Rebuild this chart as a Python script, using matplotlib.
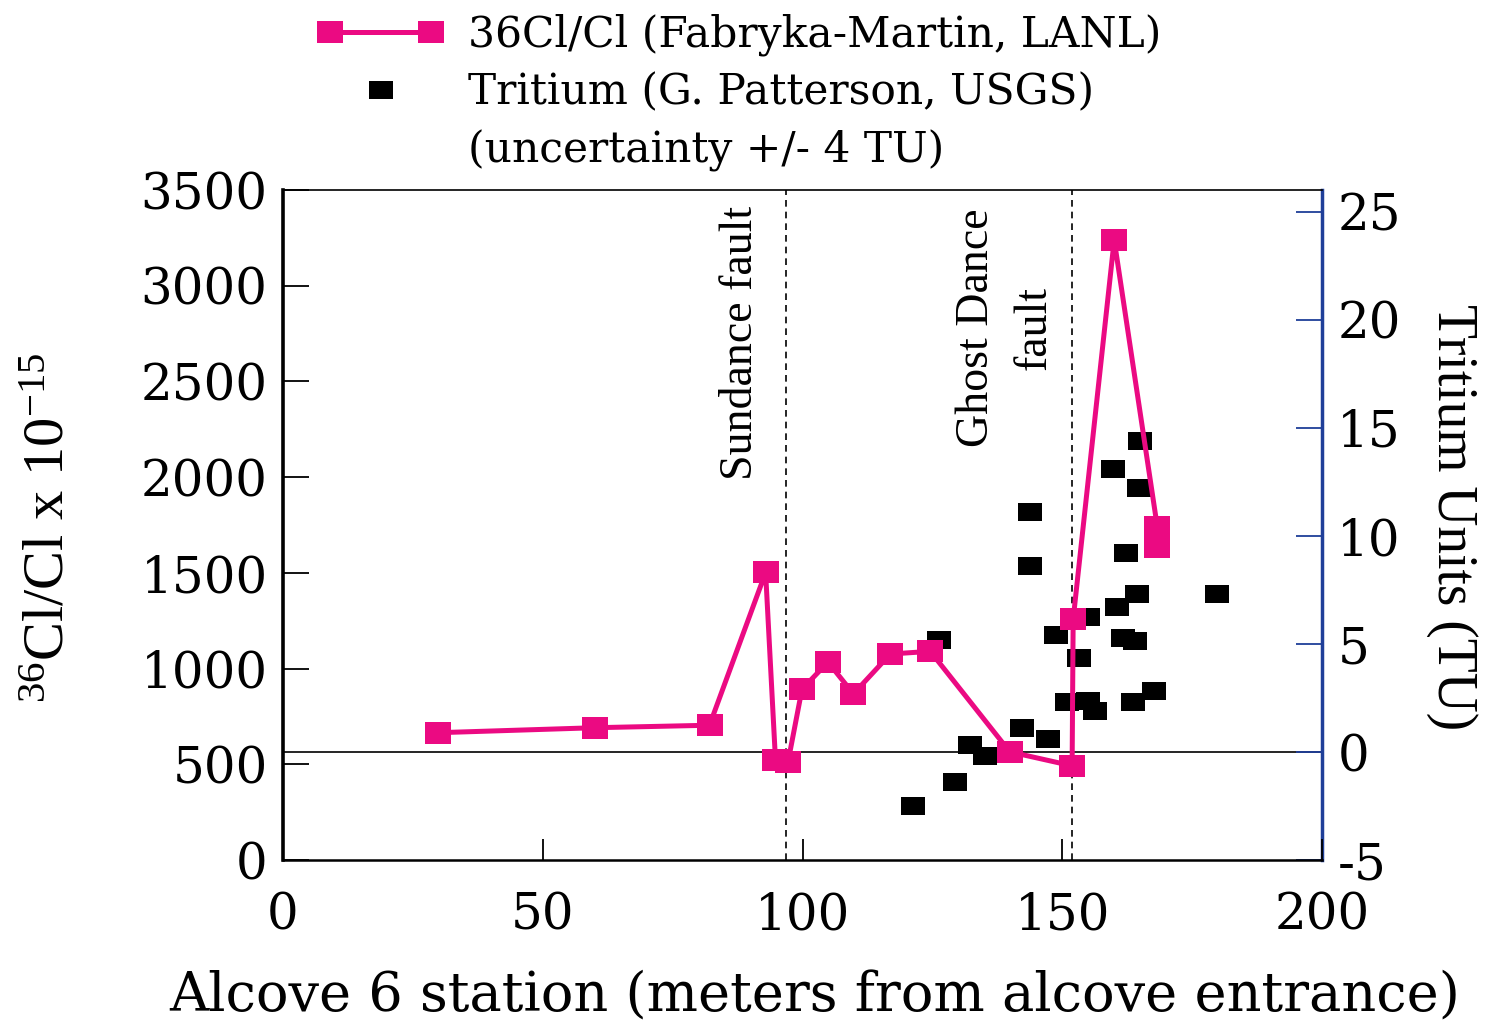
import matplotlib
matplotlib.use('Agg')
import matplotlib.pyplot as plt
from matplotlib.path import Path
from matplotlib.lines import Line2D
from matplotlib.legend_handler import HandlerLine2D

# ---- data ----
cl_station = [29.9, 60.0, 82.1, 92.9, 94.8, 97.2, 99.9, 104.9, 109.8, 116.9,
              124.6, 139.9, 151.9, 152.1, 160.0, 168.3, 168.3]
cl_ratio = [665, 691, 704, 1502, 522, 510, 892, 1034, 868, 1076,
            1090, 565, 492, 1257, 3239, 1740, 1635]

tr_station = [121.3, 126.3, 129.3, 132.3, 135.1, 142.2, 143.8, 143.8, 147.2, 148.8,
              151.0, 153.3, 154.9, 155.0, 156.3, 159.7, 160.6, 161.6, 162.3, 163.6,
              164.0, 164.4, 164.8, 164.9, 167.6, 179.7]
tr_units = [-2.5, 5.2, -1.4, 0.3, -0.2, 1.1, 11.1, 8.6, 0.6, 5.4,
            2.3, 4.35, 6.25, 2.35, 1.9, 13.1, 6.7, 5.25, 9.2, 2.3,
            5.15, 7.3, 12.2, 14.4, 2.8, 7.3]

fault_station = [96.8, 151.9]
x_ticks = [0, 50, 100, 150, 200]
left_ticks = [0, 500, 1000, 1500, 2000, 2500, 3000, 3500]
right_ticks = [-5, 0, 5, 10, 15, 20, 25]

cl_label = "36Cl/Cl (Fabryka-Martin, LANL)"
tr_label = "Tritium (G. Patterson, USGS)"
unc_label = "(uncertainty +/- 4 TU)"

PINK = '#EB0A82'
BLUE = '#1F3F99'

plt.rcParams['font.family'] = ['DejaVu Serif']
plt.rcParams['mathtext.fontset'] = 'custom'
plt.rcParams['mathtext.rm'] = 'Liberation Serif'
plt.rcParams['mathtext.default'] = 'regular'
plt.rcParams['axes.unicode_minus'] = False

fig = plt.figure(figsize=(14.85, 10.24), dpi=100)
ax = fig.add_axes([283/1485, 1-860/1024, (1322-283)/1485, (860-190)/1024])
ax2 = ax.twinx()
ax.set_zorder(ax2.get_zorder() + 1)
ax.patch.set_visible(False)

rect = Path([(-1, -0.82), (1, -0.82), (1, 0.82), (-1, 0.82), (-1, -0.82)],
            [Path.MOVETO, Path.LINETO, Path.LINETO, Path.LINETO, Path.CLOSEPOLY])

# tritium (right axis)
ax2.plot(tr_station, tr_units, ls='none', marker=rect, ms=16.6, color='black', mew=0)
ax2.axhline(0, color='black', lw=1.2, zorder=1)

# fault lines
for fx in fault_station:
    ax.axvline(fx, color='black', ls=(0, (4, 3)), lw=1.2, zorder=1)

# 36Cl/Cl (left axis)
ax.plot(cl_station, cl_ratio, color=PINK, lw=3.6, marker=rect, ms=18.7, mew=0, zorder=3)

ax.set_xlim(0, 200)
ax.set_ylim(0, 3500)
ax2.set_ylim(-5, 26)
ax.set_xticks(x_ticks)
ax.set_yticks(left_ticks)
ax2.set_yticks(right_ticks)

ax.tick_params(axis='y', direction='in', length=19, width=1.3, labelsize=36, pad=11)
ax.tick_params(axis='x', direction='in', length=15, width=1.3, labelsize=36, pad=22)
ax2.tick_params(axis='y', direction='in', length=19, width=1.3, colors=BLUE,
                labelcolor='black', labelsize=36, pad=11)

ax.spines['left'].set_linewidth(2.6)
ax.spines['bottom'].set_linewidth(1.8)
ax.spines['top'].set_linewidth(1.2)
ax.spines['right'].set_visible(False)
for s in ('left', 'top', 'bottom'):
    ax2.spines[s].set_visible(False)
ax2.spines['right'].set_color(BLUE)
ax2.spines['right'].set_linewidth(2.5)

# fault annotations
ax.text(88.2, 2701, "Sundance fault", rotation=90, ha='center', va='center',
        family='Liberation Serif', fontsize=33)
ax.text(139.1, 2780, "Ghost Dance\nfault", rotation=90, ha='center', va='center',
        multialignment='center', linespacing=1.45, family='Liberation Serif', fontsize=33)

# axis labels
fig.text(50/1485, 1-527.5/1024, r'$^{36}$Cl/Cl x 10$^{-15}$', rotation=90,
         ha='center', va='center', family='Liberation Serif', fontsize=42)
fig.text(1452/1485, 1-517.5/1024, "Tritium Units (TU)", rotation=270,
         ha='center', va='center', family='Liberation Serif', fontsize=40)
fig.text(815/1485, 1-997/1024, "Alcove 6 station (meters from alcove entrance)",
         ha='center', va='center', family='DejaVu Serif', fontsize=39)

# legend
h1 = Line2D([], [], color=PINK, lw=3.6, marker=rect, ms=18.7, mew=0)
h2 = Line2D([], [], ls='none', marker=rect, ms=16.6, color='black', mew=0)
h3 = Line2D([], [], ls='none')
fig.legend([h1, h2, h3], [cl_label, tr_label, unc_label], loc='upper left',
           bbox_to_anchor=(317/1485, 1-14/1024), frameon=False, numpoints=2,
           handlelength=3.0, handletextpad=0.56, borderpad=0, borderaxespad=0,
           labelspacing=0.36, prop={'family': 'DejaVu Serif', 'size': 30.5},
           handler_map={h2: HandlerLine2D(numpoints=1)})

fig.savefig('out.png', dpi=100)
